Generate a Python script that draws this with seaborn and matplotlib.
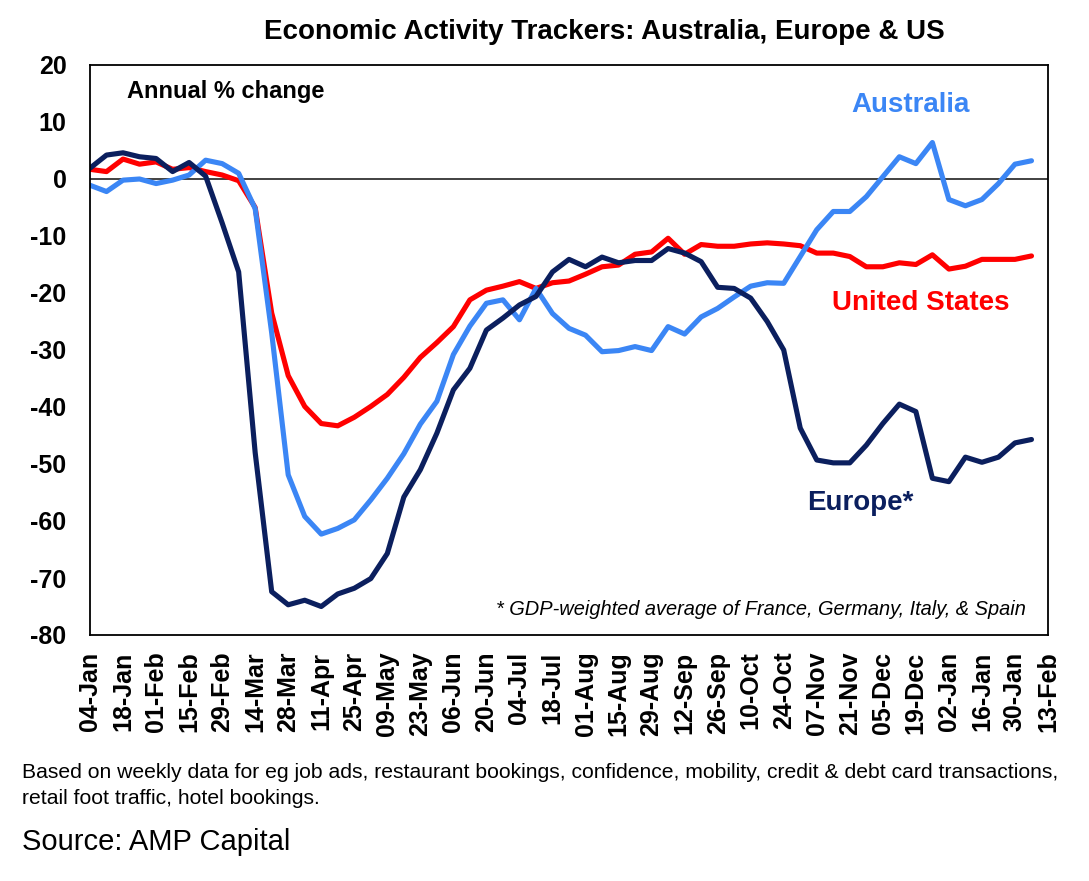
import numpy as np
import pandas as pd
import matplotlib
matplotlib.use("Agg")
import matplotlib.pyplot as plt
import seaborn as sns

# Weekly tick labels (every second week shown)
tick_labels = ['04-Jan', '18-Jan', '01-Feb', '15-Feb', '29-Feb', '14-Mar', '28-Mar',
               '11-Apr', '25-Apr', '09-May', '23-May', '06-Jun', '20-Jun', '04-Jul',
               '18-Jul', '01-Aug', '15-Aug', '29-Aug', '12-Sep', '26-Sep', '10-Oct',
               '24-Oct', '07-Nov', '21-Nov', '05-Dec', '19-Dec', '02-Jan', '16-Jan',
               '30-Jan', '13-Feb']

# Annual % change, weekly from 04-Jan
europe = [1.9, 4.2, 4.6, 3.9, 3.6, 1.3, 2.9, 0.5, -7.7, -16.3,
          -48.0, -72.4, -74.7, -73.9, -75.0, -72.8, -71.8, -70.1, -65.7, -55.8,
          -51.0, -44.6, -37.0, -33.2, -26.5, -24.4, -22.1, -20.6, -16.3, -14.1,
          -15.4, -13.7, -14.7, -14.3, -14.3, -12.2, -13.0, -14.5, -19.0, -19.2,
          -20.9, -25.0, -30.0, -43.7, -49.3, -49.8, -49.8, -46.7, -42.9, -39.5,
          -40.8, -52.5, -53.1, -48.8, -49.7, -48.8, -46.3, -45.7]
australia = [-1.1, -2.2, -0.2, 0.0, -0.8, -0.2, 0.7, 3.3, 2.7, 1.0,
             -5.2, -27.0, -51.9, -59.2, -62.3, -61.3, -59.8, -56.3, -52.5, -48.2,
             -43.0, -39.0, -30.8, -25.8, -21.8, -21.2, -24.7, -19.2, -23.6, -26.2,
             -27.4, -30.3, -30.1, -29.4, -30.1, -25.9, -27.2, -24.2, -22.7, -20.7,
             -18.8, -18.2, -18.3, -13.6, -8.9, -5.7, -5.7, -3.1, 0.4, 3.9,
             2.7, 6.4, -3.6, -4.7, -3.6, -0.8, 2.6, 3.2]
united_states = [1.7, 1.3, 3.5, 2.6, 3.0, 1.7, 2.0, 1.3, 0.7, -0.3,
                 -5.0, -23.5, -34.5, -39.9, -42.9, -43.3, -41.8, -39.9, -37.8, -34.8,
                 -31.3, -28.7, -25.9, -21.2, -19.5, -18.8, -18.0, -19.2, -18.2, -17.9,
                 -16.7, -15.4, -15.1, -13.2, -12.8, -10.4, -13.2, -11.5, -11.8, -11.8,
                 -11.4, -11.2, -11.4, -11.7, -13.0, -13.0, -13.6, -15.4, -15.4, -14.7,
                 -15.0, -13.3, -15.8, -15.3, -14.1, -14.1, -14.1, -13.5]

weeks = np.arange(len(europe))

df = pd.DataFrame({
    'week': np.tile(weeks, 3),
    'value': united_states + australia + europe,
    'series': ['United States'] * len(weeks) + ['Australia'] * len(weeks) + ['Europe*'] * len(weeks),
})

colors = {'United States': '#FF0000', 'Australia': '#3B86F5', 'Europe*': '#0B1F5E'}

sns.set_style('white')
plt.rcParams['font.family'] = ['Liberation Sans', 'DejaVu Sans']
plt.rcParams['text.color'] = 'black'
plt.rcParams['xtick.color'] = 'black'
plt.rcParams['ytick.color'] = 'black'

fig = plt.figure(figsize=(10.89, 8.81), dpi=100)
ax = fig.add_axes([90 / 1089, 1 - 635 / 881, 958 / 1089, 570 / 881])

sns.lineplot(data=df, x='week', y='value', hue='series', palette=colors,
             linewidth=3.7, legend=False, ax=ax)

ax.axhline(0, color='#333333', linewidth=1.3, zorder=1)

ax.set_xlim(0, 58)
ax.set_ylim(-80, 20)
ax.set_xticks(np.arange(0, 59, 2))
ax.set_xticklabels(tick_labels, rotation=90, fontsize=18, fontweight='bold')
ax.set_yticks(np.arange(-80, 21, 10))
ax.set_yticklabels([str(v) for v in range(-80, 21, 10)], fontsize=18, fontweight='bold')
ax.tick_params(axis='x', length=0, pad=12)
ax.tick_params(axis='y', length=0, pad=17)
ax.set_xlabel('')
ax.set_ylabel('')
for s in ax.spines.values():
    s.set_color('black')
    s.set_linewidth(1.3)

# Labels inside the plot
ax.text(2.24, 15.3, 'Annual % change', fontsize=17, fontweight='bold', va='center', ha='left')
ax.text(49.7, 13.0, 'Australia', color=colors['Australia'], fontsize=20,
        fontweight='bold', ha='center', va='center')
ax.text(50.3, -21.8, 'United States', color=colors['United States'], fontsize=20,
        fontweight='bold', ha='center', va='center')
ax.text(46.64, -56.8, 'Europe*', color=colors['Europe*'], fontsize=20,
        fontweight='bold', ha='center', va='center')
ax.text(56.66, -75.6, '* GDP-weighted average of France, Germany, Italy, & Spain',
        fontsize=14.4, style='italic', ha='right', va='center')

# Title and notes
fig.text(604 / 1089, 1 - 32 / 881, 'Economic Activity Trackers: Australia, Europe & US',
         fontsize=20, fontweight='bold', ha='center', va='center')
fig.text(22 / 1089, 1 - 773 / 881,
         'Based on weekly data for eg job ads, restaurant bookings, confidence, mobility, '
         'credit & debt card transactions,', fontsize=15.2, ha='left', va='center')
fig.text(22 / 1089, 1 - 798 / 881, 'retail foot traffic, hotel bookings.',
         fontsize=15.2, ha='left', va='center')
fig.text(22 / 1089, 1 - 842 / 881, 'Source: AMP Capital', fontsize=21, ha='left', va='center')

fig.savefig('out.png', dpi=100, facecolor='white')
